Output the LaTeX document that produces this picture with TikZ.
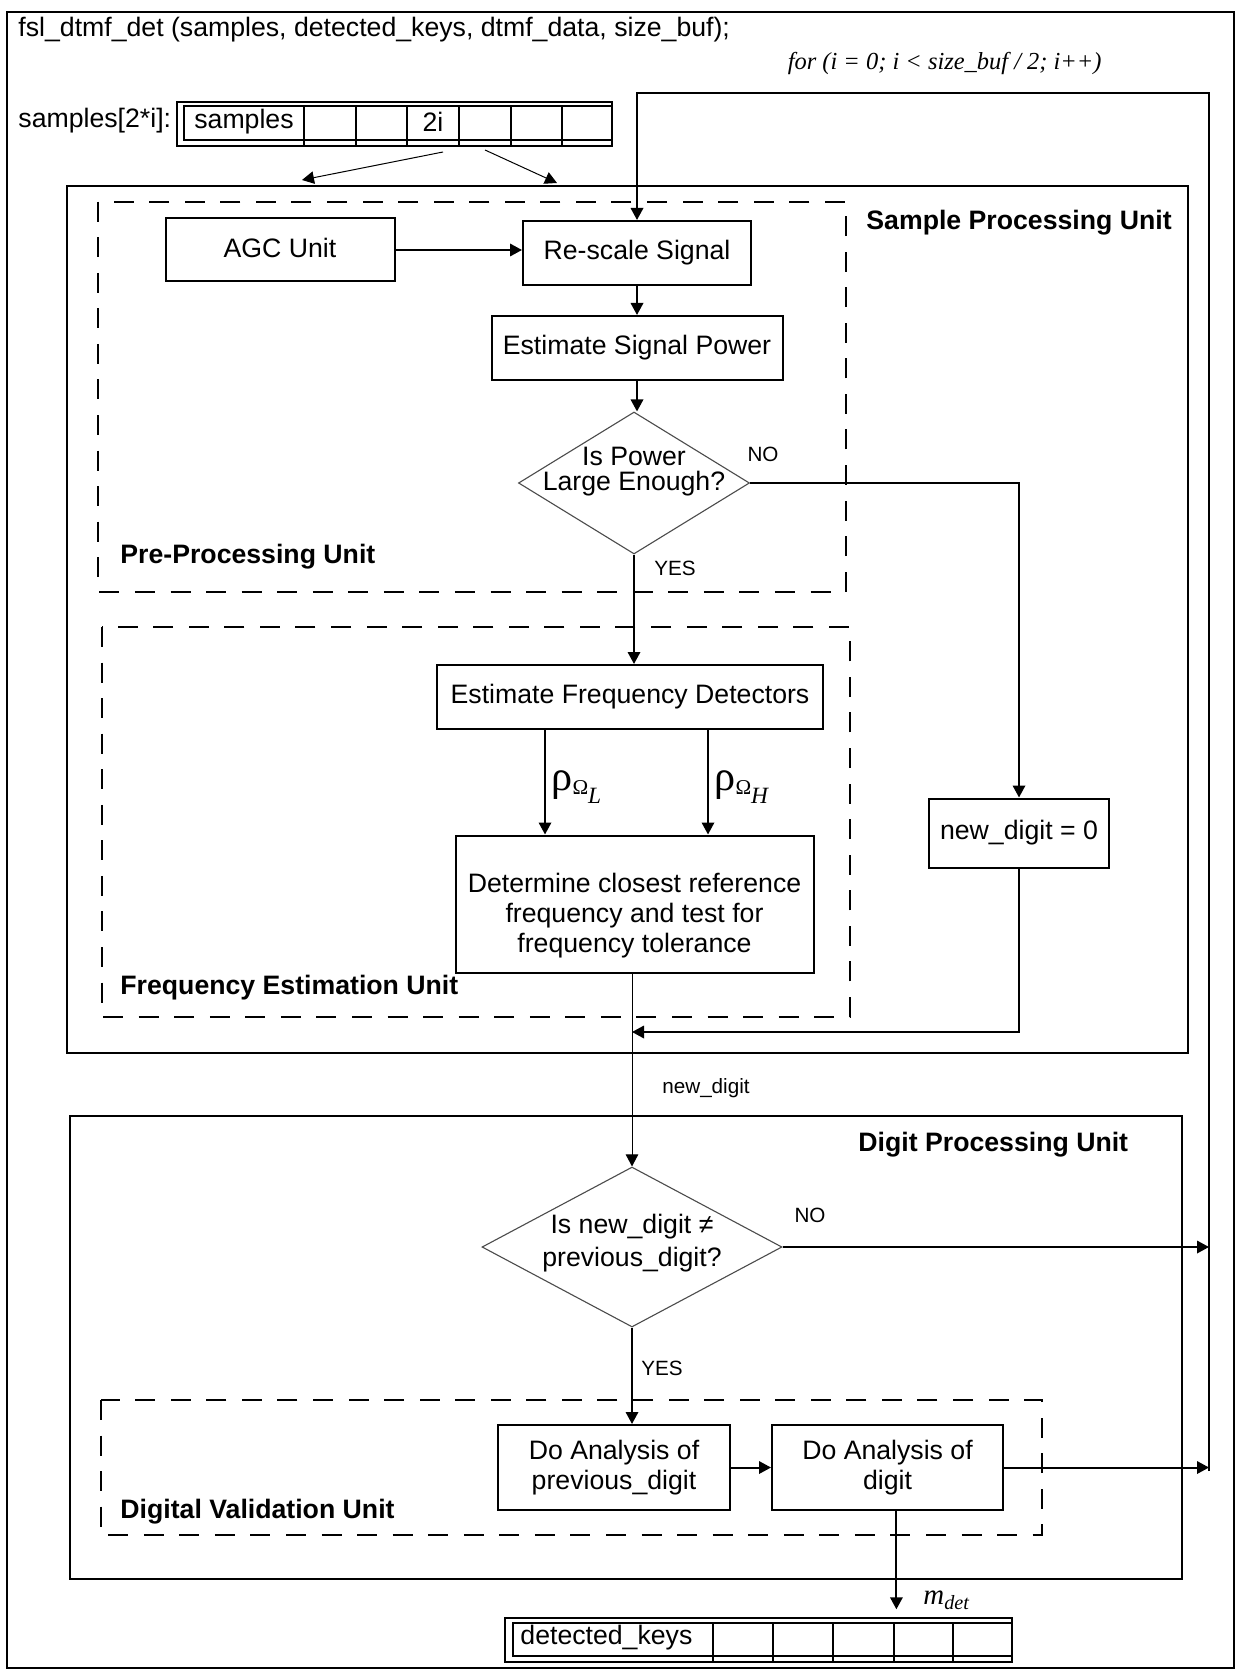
\documentclass[tikz,border=0pt]{standalone}
\usepackage{fontspec}
\setmainfont{Liberation Sans}
\newfontfamily\seriffont{Liberation Serif}
\usetikzlibrary{shapes.geometric,arrows.meta,positioning,calc}

\newcommand{\boxfont}{\fontsize{12}{13.5}\selectfont}
\newcommand{\tagfont}{\fontsize{9.3}{11}\selectfont}
\newcommand{\rholabel}[1]{{\seriffont\fontsize{19}{19}\selectfont ρ}\raisebox{-1.6pt}{\seriffont\fontsize{9.5}{9.5}\selectfont Ω}\raisebox{-5.5pt}{\seriffont\itshape\fontsize{10.5}{10.5}\selectfont #1}}

\tikzset{
  boxsize/.style 2 args={minimum width=#1*0.45pt, minimum height=#2*0.45pt},
  block/.style={draw, line width=0.9pt, align=center, font=\boxfont},
  decision/.style={diamond, draw=black!70, line width=0.5pt},
  dtext/.style={align=center, font=\boxfont},
  unitname/.style={anchor=west, font=\boxfont\bfseries},
  tag/.style={font=\tagfont},
  flow/.style={line width=0.9pt, -{Triangle[length=5.4pt,width=5.6pt]}},
  thinflow/.style={line width=0.45pt, -{Triangle[length=5.4pt,width=5.6pt]}},
  wire/.style={line width=0.9pt},
  unit/.style={line width=0.9pt},
  subunit/.style={line width=0.9pt, dash pattern=on 9pt off 7pt},
}

\begin{document}
\begin{tikzpicture}[x=0.45pt, y=-0.45pt, every node/.append style={inner sep=0pt}]
\useasboundingbox (0,0) rectangle (1238,1672);

% function frame
\draw[unit] (7,12) rectangle (1234,1668);
\node[anchor=west, font=\boxfont] (title) at (18,30) {fsl\_dtmf\_det (samples, detected\_keys, dtmf\_data, size\_buf);};
\node[anchor=east, font={\seriffont\itshape\fontsize{11}{12}\selectfont}] (loophead) at (1102,64) {for (i = 0; i < size\_buf / 2; i++)};

% input buffer
\node[anchor=west, font=\boxfont] (smpllbl) at (18,121) {samples[2*i]:};
\node[draw, line width=0.9pt, boxsize={435}{44}] (smpl) at (394.3,123.7) {};
\draw[wire] (612,106) -- (184.3,106) -- (184.3,140) -- (612,140);
\foreach \cx in {304,356,407,459,511,562}
  \draw[wire] (\cx,106) -- (\cx,145.7);
\node[font=\boxfont] (smpltxt) at (244,122) {samples};
\node[font=\boxfont] (twoi) at (433,122) {2i};
\coordinate (fromL) at (443,152);
\coordinate (toL) at (302,180);
\coordinate (fromR) at (485,150);
\coordinate (toR) at (557,183);
\draw[thinflow] (fromL) -- (toL);
\draw[thinflow] (fromR) -- (toR);

% sample processing unit
\draw[unit] (67.3,185.7) rectangle (1188,1053.3);
\node[unitname] (spulbl) at (866,223) {Sample Processing Unit};

% pre-processing
\draw[subunit] (98.3,201.7) rectangle (846,591.7);
\node[unitname] (ppulbl) at (120,557) {Pre-Processing Unit};
\node[block, boxsize={229}{63}] (agc) at (280,250) {\raisebox{2pt}{AGC Unit}};
\node[block, boxsize={228}{64}] (rescale) at (637,253) {\raisebox{2pt}{Re-scale Signal}};
\node[block, boxsize={291}{64}] (power) at (637,348) {\raisebox{1pt}{Estimate Signal Power}};
\node[decision, boxsize={231}{142},
  label={[dtext, font=\fontsize{12}{11.1}\selectfont, yshift=5.2pt]center:Is Power\\Large Enough?}] (enough) at (634,483) {};
\draw[flow] (agc.east) -- (agc.east -| rescale.west);
\draw[flow] (rescale.south) -- (power.north);
\draw[flow] (power.south) -- (power.south |- enough.north);
\node[tag] (nolbl1) at (763,454) {NO};
\node[tag] (yeslbl1) at (675,568) {YES};
\node[block, boxsize={180}{69}] (zero) at (1019,833) {new\_digit = 0};
\draw[flow] (enough.east) -| (zero.north);

% frequency estimation
\draw[subunit] (101.7,627) rectangle (850,1016.7);
\node[unitname] (feulbl) at (120,988) {Frequency Estimation Unit};
\node[block, boxsize={386}{64}] (detect) at (630,697) {Estimate Frequency Detectors};
\draw[flow] (enough.south) -- (enough.south |- detect.north);
\node[block, boxsize={358}{137},
  label={[dtext, yshift=-5pt]center:Determine closest reference\\frequency and test for\\frequency tolerance}] (closest) at (634.5,904) {};
\coordinate (rhoL) at (545,0);
\coordinate (rhoH) at (708,0);
\draw[flow] (rhoL |- detect.south) -- (rhoL |- closest.north);
\draw[flow] (rhoH |- detect.south) -- (rhoH |- closest.north);
\node[anchor=west] (rholbl) at (551,787) {\rholabel{L}};
\node[anchor=west] (rhohlbl) at (714,787) {\rholabel{H}};

% digit processing unit
\draw[unit] (70,1115.7) rectangle (1182,1579.3);
\node[unitname] (dpulbl) at (858,1145) {Digit Processing Unit};
\node[decision, boxsize={300}{160},
  label={[dtext, font=\fontsize{12}{14.9}\selectfont, yshift=1.8pt]center:Is new\_digit ≠\\previous\_digit?}] (dcheck) at (632,1247) {};

\coordinate (merge) at (632,1032);
\draw[thinflow] (merge |- closest.south) -- (merge |- dcheck.north);
\draw[flow] (zero.south) |- (merge);
\node[tag] (ndlbl) at (706,1088) {new\_digit};

% loop back
\coordinate (looptop) at (1209,93);
\coordinate (loopbot) at (1209,1471);
\draw[flow] (loopbot) -- (looptop) -| (rescale.north);
\draw[flow] (dcheck.east) -- (dcheck.east -| looptop);
\node[tag] (nolbl2) at (810,1215) {NO};
\node[tag] (yeslbl2) at (662,1368) {YES};

% digit validation
\draw[subunit] (101,1400) rectangle (1042,1535);
\node[unitname] (dvulbl) at (120,1512) {Digital Validation Unit};
\node[block, boxsize={232}{85}] (prevdig) at (614,1467.5) {Do Analysis of\\previous\_digit};
\node[block, boxsize={231}{85}] (curdig) at (887.5,1467.5) {Do Analysis of\\digit};
\draw[flow] (dcheck.south) -- (dcheck.south |- prevdig.north);
\draw[flow] (prevdig.east) -- (curdig.west);
\draw[flow] (curdig.east) -- (curdig.east -| looptop);

% output buffer
\node[draw, line width=0.9pt, boxsize={507}{43.4}] (keys) at (758.5,1640) {};
\draw[wire] (1012,1622.7) -- (513.3,1622.7) -- (513.3,1656) -- (1012,1656);
\foreach \cx in {712.7,772.7,832.7,894,953.3}
  \draw[wire] (\cx,1622.7) -- (\cx,1661.7);
\node[anchor=west, font=\boxfont] (keystxt) at (520,1638) {detected\_keys};
\draw[flow, shorten >=3.6pt] ([xshift=4pt]curdig.south) -- ([xshift=4pt]curdig.south |- keys.north);
\node[anchor=west, font={\seriffont\itshape\fontsize{13}{13}\selectfont}] (mdet) at (923,1600) {m\textsubscript{det}};
\end{tikzpicture}
\end{document}
